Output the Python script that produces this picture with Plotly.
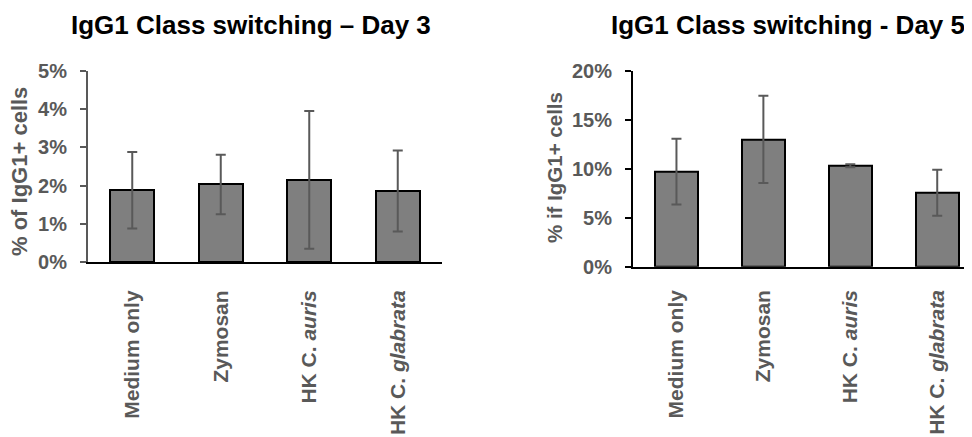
import plotly.graph_objects as go

categories = ["Medium only", "Zymosan", "HK C. <i>auris</i>", "HK C. <i>glabrata</i>"]

day3_values = [1.88, 2.03, 2.15, 1.86]
day3_errors = [1.00, 0.78, 1.80, 1.06]
day3_ticks = [0, 1, 2, 3, 4, 5]
day3_ticktext = ["0%", "1%", "2%", "3%", "4%", "5%"]

day5_values = [9.7, 13.0, 10.3, 7.55]
day5_errors = [3.35, 4.45, 0.15, 2.35]
day5_ticks = [0, 5, 10, 15, 20]
day5_ticktext = ["0%", "5%", "10%", "15%", "20%"]

# page body has an 8px margin; figure fills the rest of the 972x437 window
OFF = 8
W, H = 972 - OFF, 437 - OFF
FONT = "Liberation Sans, Arial, sans-serif"
GRAY = "#595959"


def px(x):
    return (x - OFF) / W


def py(y):
    return 1 - (y - OFF) / H


fig = go.Figure()

for vals, errs, xa, ya in [(day3_values, day3_errors, "x", "y"),
                           (day5_values, day5_errors, "x2", "y2")]:
    fig.add_trace(go.Bar(
        x=list(range(len(categories))), y=vals,
        xaxis=xa, yaxis=ya,
        width=0.5,
        marker=dict(color="#7f7f7f", line=dict(color="black", width=2)),
        error_y=dict(type="data", array=errs, visible=True,
                     color=GRAY, thickness=2, width=5),
        showlegend=False,
    ))

ytickfont = dict(family=FONT, size=20, color=GRAY, weight="bold")
xtickfont = dict(family=FONT, size=21, color=GRAY, weight="bold")

fig.update_layout(
    width=W, height=H,
    margin=dict(l=0, r=0, t=0, b=0),
    paper_bgcolor="white", plot_bgcolor="white",
    bargap=0,
    xaxis=dict(domain=[px(88), px(442)], range=[-0.5, 3.5],
               tickmode="array", tickvals=list(range(4)), ticktext=categories,
               tickangle=-90, tickfont=xtickfont, ticks="",
               ticklabelstandoff=18, automargin=False,
               showline=True, linecolor="black", linewidth=2,
               showgrid=False, zeroline=False, anchor="y"),
    yaxis=dict(domain=[py(262), py(71)], range=[0, 5],
               tickmode="array", tickvals=day3_ticks, ticktext=day3_ticktext,
               tickfont=ytickfont, ticks="outside", ticklen=6, tickwidth=2,
               tickcolor=GRAY, ticklabelstandoff=9, automargin=False,
               showline=True, linecolor=GRAY, linewidth=2,
               showgrid=False, zeroline=False, anchor="x"),
    xaxis2=dict(domain=[px(633), 1.0], range=[-0.5, 3.4],
                tickmode="array", tickvals=list(range(4)), ticktext=categories,
                tickangle=-90, tickfont=xtickfont, ticks="",
                ticklabelstandoff=13, automargin=False,
                showline=True, linecolor="black", linewidth=2,
                showgrid=False, zeroline=False, anchor="y2"),
    yaxis2=dict(domain=[py(266.7), py(70.7)], range=[0, 20],
                tickmode="array", tickvals=day5_ticks, ticktext=day5_ticktext,
                tickfont=ytickfont, ticks="outside", ticklen=6, tickwidth=2,
                tickcolor="black", ticklabelstandoff=9, automargin=False,
                showline=True, linecolor="black", linewidth=2,
                showgrid=False, zeroline=False, anchor="x2"),
    annotations=[
        dict(text="<b>IgG1 Class switching – Day 3</b>", x=px(251), y=py(25),
             xref="paper", yref="paper", showarrow=False,
             xanchor="center", yanchor="middle",
             font=dict(family=FONT, size=26, color="black")),
        dict(text="<b>IgG1 Class switching - Day 5</b>", x=px(788), y=py(25),
             xref="paper", yref="paper", showarrow=False,
             xanchor="center", yanchor="middle",
             font=dict(family=FONT, size=26, color="black")),
        dict(text="<b>% of IgG1+ cells</b>", x=px(20), y=py(172),
             xref="paper", yref="paper", showarrow=False, textangle=-90,
             xanchor="center", yanchor="middle",
             font=dict(family=FONT, size=22, color=GRAY)),
        dict(text="<b>% if IgG1+ cells</b>", x=px(554), y=py(168),
             xref="paper", yref="paper", showarrow=False, textangle=-90,
             xanchor="center", yanchor="middle",
             font=dict(family=FONT, size=20.5, color=GRAY)),
    ],
)

fig.write_html("out.html")
